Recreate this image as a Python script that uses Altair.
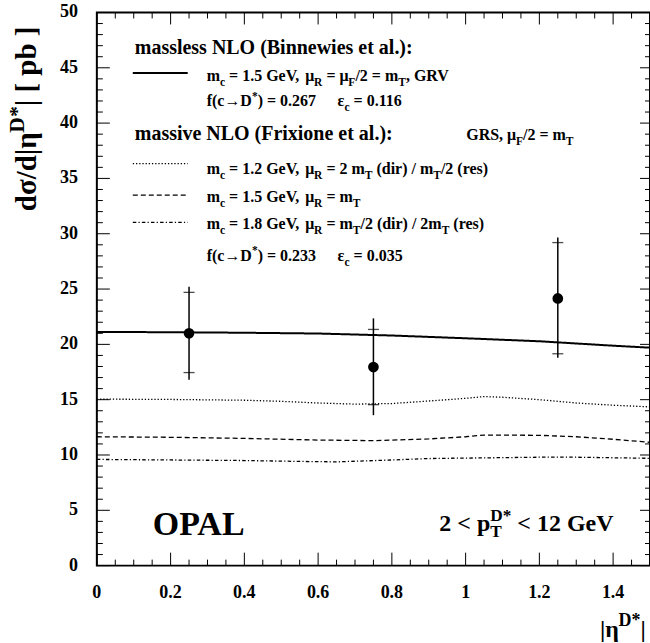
import altair as alt
import pandas as pd

# ---------------- data ----------------
eta_pts = [0.25, 0.75, 1.25]
xsec = [21.0, 17.95, 24.15]
stat_lo = [17.45, 14.55, 19.15]
stat_hi = [24.7, 21.35, 29.2]
tot_lo = [16.8, 13.6, 18.8]
tot_hi = [25.2, 22.35, 29.65]

eta_massless = [0.0, 0.2, 0.4, 0.6, 0.8, 1.0, 1.2, 1.4, 1.5]
massless = [21.12, 21.1, 21.05, 20.98, 20.8, 20.55, 20.28, 19.88, 19.7]

eta_m12 = [0.0, 0.2, 0.4, 0.5, 0.6, 0.7, 0.8, 0.9, 1.0, 1.05, 1.1, 1.2, 1.3, 1.4, 1.5]
m12 = [15.05, 15.02, 14.95, 14.85, 14.7, 14.6, 14.65, 14.88, 15.12, 15.28, 15.22, 15.0, 14.7, 14.5, 14.35]

eta_m15 = [0.0, 0.2, 0.4, 0.6, 0.75, 0.9, 1.0, 1.05, 1.2, 1.3, 1.4, 1.5]
m15 = [11.65, 11.6, 11.5, 11.35, 11.3, 11.45, 11.65, 11.8, 11.78, 11.65, 11.42, 11.15]

eta_m18 = [0.0, 0.2, 0.4, 0.55, 0.65, 0.8, 0.9, 1.0, 1.2, 1.3, 1.4, 1.5]
m18 = [9.6, 9.55, 9.5, 9.42, 9.38, 9.55, 9.68, 9.72, 9.8, 9.8, 9.75, 9.7]

y_major = [0, 5, 10, 15, 20, 25, 30, 35, 40, 45, 50]
y_minor = [v for v in range(0, 51) if v % 5 != 0]
x_major = [0.0, 0.2, 0.4, 0.6, 0.8, 1.0, 1.2, 1.4]
x_minor = [round(i * 0.05, 2) for i in range(31) if i % 4 != 0]

# text (segments: n normal, b subscript, p superscript, b0 subscript without advance)
t_head1 = [("massless NLO (Binnewies et al.):", "n")]
t_l1 = [("m", "n"), ("c", "b"), (" = 1.5 GeV, μ", "n"), ("R", "b"), (" = μ", "n"), ("F", "b"),
        ("/2 = m", "n"), ("T", "b"), (", GRV", "n")]
t_f1 = [("f(c→D", "n"), ("*", "p"), (") = 0.267", "n")]
t_e1 = [("ε", "n"), ("c", "b"), (" = 0.116", "n")]
t_head2 = [("massive NLO (Frixione et al.):", "n")]
t_grs = [("GRS, μ", "n"), ("F", "b"), ("/2 = m", "n"), ("T", "b")]
t_l2 = [("m", "n"), ("c", "b"), (" = 1.2 GeV, μ", "n"), ("R", "b"), (" = 2 m", "n"), ("T", "b"),
        (" (dir) / m", "n"), ("T", "b"), ("/2 (res)", "n")]
t_l3 = [("m", "n"), ("c", "b"), (" = 1.5 GeV, μ", "n"), ("R", "b"), (" = m", "n"), ("T", "b")]
t_l4 = [("m", "n"), ("c", "b"), (" = 1.8 GeV, μ", "n"), ("R", "b"), (" = m", "n"), ("T", "b"),
        ("/2 (dir) / 2m", "n"), ("T", "b"), (" (res)", "n")]
t_f2 = [("f(c→D", "n"), ("*", "p"), (") = 0.233", "n")]
t_e2 = [("ε", "n"), ("c", "b"), (" = 0.035", "n")]
t_opal = [("OPAL", "n")]
t_pt = [("2 < p", "n"), ("T", "b0"), ("D*", "p"), (" < 12 GeV", "n")]
t_ytitle = [("dσ/d|η", "n"), ("D*", "p"), ("| [ pb ]", "n")]
t_xtitle = [("|η", "n"), ("D*", "p"), ("|", "n")]

# ---------------- layout ----------------
PL, PT = 97, 12
W, H = 554, 554
FONT = "Liberation Serif"

CW = {" ": 250, "!": 333, "(": 333, ")": 333, "*": 500, ",": 250, "-": 333, ".": 250, "/": 278,
      ":": 333, "=": 570, "<": 570, ">": 570, "[": 333, "]": 333, "|": 220,
      "A": 722, "B": 667, "C": 722, "D": 722, "E": 667, "F": 611, "G": 778, "H": 778, "I": 389,
      "J": 500, "K": 778, "L": 667, "M": 944, "N": 722, "O": 778, "P": 611, "Q": 778, "R": 722,
      "S": 556, "T": 667, "U": 722, "V": 722, "W": 1000, "X": 722, "Y": 722, "Z": 667,
      "a": 500, "b": 556, "c": 444, "d": 556, "e": 444, "f": 333, "g": 500, "h": 556, "i": 278,
      "j": 333, "k": 556, "l": 278, "m": 833, "n": 556, "o": 500, "p": 556, "q": 556, "r": 444,
      "s": 389, "t": 333, "u": 556, "v": 500, "w": 722, "x": 500, "y": 500, "z": 444,
      "μ": 556, "σ": 550, "η": 550, "ε": 440, "→": 1000}


def tw(s, size):
    return sum(CW.get(ch, 500) for ch in s) * size / 1000.0


def rich(segs, x0, y0, size, angle=0, small=0.72):
    rows = []
    adv = 0.0
    for txt, mode in segs:
        if mode == "n":
            fs, off = size, 0.0
        elif mode in ("b", "b0"):
            fs, off = size * small, size * 0.28
        else:
            fs, off = size * small, -size * 0.42
        pos = 0.0
        for i, word in enumerate(txt.split(" ")):
            if i > 0:
                pos += tw(" ", fs)
            if word:
                if angle == 0:
                    rows.append(dict(t=word, px=x0 + adv + pos - PL, py=y0 + off - PT, fs=fs))
                else:
                    rows.append(dict(t=word, px=x0 + off - PL, py=y0 - adv - pos - PT, fs=fs))
                pos += tw(word, fs)
        if mode != "b0":
            adv += pos
    return rows


rows = []
rows += rich(t_head1, 135, 54, 20)
rows += rich(t_l1, 207, 81, 16)
rows += rich(t_f1, 207, 106, 16)
rows += rich(t_e1, 338, 106, 16)
rows += rich(t_head2, 135, 140, 20)
rows += rich(t_grs, 467, 140, 16)
rows += rich(t_l2, 207, 174, 16)
rows += rich(t_l3, 207, 202, 16)
rows += rich(t_l4, 207, 229, 16)
rows += rich(t_f2, 207, 261, 16)
rows += rich(t_e2, 338, 261, 16)
rows += rich(t_opal, 153, 535, 34)
rows += rich(t_pt, 440, 531, 24)
rows += rich(t_xtitle, 601, 637, 24, small=0.75)
text_df = pd.DataFrame(rows)
ytitle_df = pd.DataFrame(rich(t_ytitle, 36, 211, 29, angle=270, small=0.75))

xs = alt.Scale(domain=[0, 1.5], nice=False, zero=False)
ys = alt.Scale(domain=[0, 50], nice=False, zero=False)
noaxis = None


def curve(etas, vals, dash, width):
    df = pd.DataFrame({"eta": etas, "v": vals})
    return alt.Chart(df).mark_line(color="black", strokeWidth=width, strokeDash=dash).encode(
        x=alt.X("eta:Q", scale=xs, axis=noaxis), y=alt.Y("v:Q", scale=ys, axis=noaxis))


pts = pd.DataFrame({"eta": eta_pts, "v": xsec, "slo": stat_lo, "shi": stat_hi,
                    "tlo": tot_lo, "thi": tot_hi})

base_x = alt.X("eta:Q", scale=xs, axis=noaxis)
err = alt.Chart(pts).mark_rule(color="black", strokeWidth=1.5).encode(
    x=base_x, y=alt.Y("tlo:Q", scale=ys, axis=noaxis), y2="thi:Q")
tick_lo = alt.Chart(pts).mark_tick(color="black", size=11, thickness=1.3, orient="horizontal").encode(
    x=base_x, y=alt.Y("slo:Q", scale=ys, axis=noaxis))
tick_hi = alt.Chart(pts).mark_tick(color="black", size=11, thickness=1.3, orient="horizontal").encode(
    x=base_x, y=alt.Y("shi:Q", scale=ys, axis=noaxis))
dots = alt.Chart(pts).mark_point(filled=True, color="black", opacity=1, size=115, shape="circle").encode(
    x=base_x, y=alt.Y("v:Q", scale=ys, axis=noaxis))


def yticks(vals, length, right=False):
    df = pd.DataFrame({"v": vals})
    if right:
        xa, xb = W, W - length
    else:
        xa, xb = 0, length
    return alt.Chart(df).mark_rule(color="black", strokeWidth=1).encode(
        y=alt.Y("v:Q", scale=ys, axis=noaxis), x=alt.value(xa), x2=alt.value(xb))


def xticks(vals, length, top=False):
    df = pd.DataFrame({"v": vals})
    if top:
        ya, yb = 0, length
    else:
        ya, yb = H, H - length
    return alt.Chart(df).mark_rule(color="black", strokeWidth=1).encode(
        x=alt.X("v:Q", scale=xs, axis=noaxis), y=alt.value(ya), y2=alt.value(yb))


ylab = alt.Chart(pd.DataFrame({"v": y_major})).mark_text(
    font=FONT, fontWeight="bold", fontSize=18, align="right", baseline="middle", dx=-19
).encode(y=alt.Y("v:Q", scale=ys, axis=noaxis), x=alt.value(0), text=alt.Text("v:Q", format="d"))

xlab = alt.Chart(pd.DataFrame({"v": x_major})).mark_text(
    font=FONT, fontWeight="bold", fontSize=18, align="center", baseline="middle"
).encode(x=alt.X("v:Q", scale=xs, axis=noaxis), y=alt.value(H + 27), text=alt.Text("v:Q", format="~g"))


def sample(ypix, dash, width):
    return alt.Chart(pd.DataFrame({"a": [0]})).mark_rule(
        color="black", strokeWidth=width, strokeDash=dash).encode(
        x=alt.value(133 - PL), x2=alt.value(188 - PL), y=alt.value(ypix - PT))


texts = alt.Chart(text_df).mark_text(
    font=FONT, fontWeight="bold", align="left", baseline="alphabetic", color="black"
).encode(x=alt.X("px:Q", scale=None, axis=noaxis), y=alt.Y("py:Q", scale=None, axis=noaxis),
         size=alt.Size("fs:Q", scale=None, legend=None), text="t:N")

ytitle = alt.Chart(ytitle_df).mark_text(
    font=FONT, fontWeight="bold", align="left", baseline="alphabetic", angle=270, color="black"
).encode(x=alt.X("px:Q", scale=None, axis=noaxis), y=alt.Y("py:Q", scale=None, axis=noaxis),
         size=alt.Size("fs:Q", scale=None, legend=None), text="t:N")

chart = alt.layer(
    yticks(y_major, 13), yticks(y_minor, 6), yticks(y_major, 10, right=True), yticks(y_minor, 5, right=True),
    xticks(x_major, 13), xticks(x_minor, 6), xticks(x_major, 12, top=True), xticks(x_minor, 6, top=True),
    curve(eta_massless, massless, [1, 0], 2),
    curve(eta_m12, m12, [1.3, 1.9], 1.3),
    curve(eta_m15, m15, [5, 3], 1.3),
    curve(eta_m18, m18, [3.5, 2.2, 1.2, 2.2], 1.3),
    err, tick_lo, tick_hi, dots,
    sample(72.7, [1, 0], 2), sample(163.3, [1.3, 1.9], 1.3), sample(195, [5, 3], 1.3),
    sample(222.3, [3.5, 2.2, 1.2, 2.2], 1.3),
    ylab, xlab, texts, ytitle,
).properties(
    width=W, height=H,
    autosize=alt.AutoSizeParams(type="none"),
    padding={"left": PL, "top": PT, "right": 0, "bottom": 643 - PT - H},
).configure_view(stroke="black", strokeWidth=2)

chart.save("out.html", embed_options={"renderer": "svg", "actions": False})
